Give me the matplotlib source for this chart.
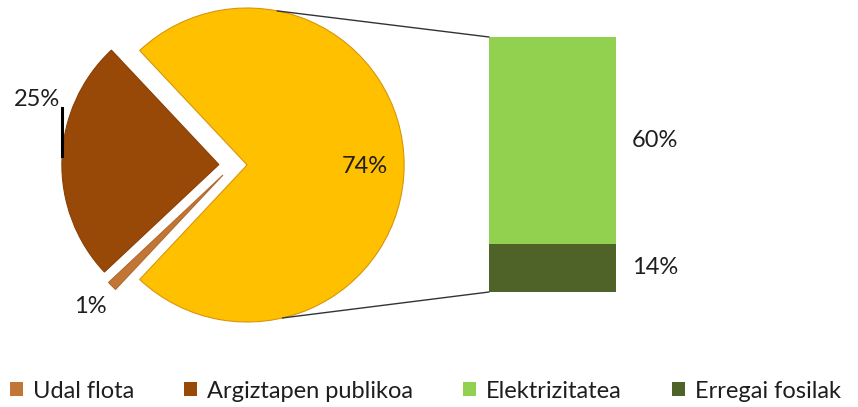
import matplotlib
matplotlib.use("Agg")
import matplotlib.pyplot as plt
from matplotlib.patches import ConnectionPatch, Patch
import numpy as np

plt.rcParams['font.family'] = ['Lato', 'DejaVu Sans']

# ---- data ----
pie_labels = ["Other", "Argiztapen publikoa", "Udal flota"]
pie_values = [74, 25, 1]
bar_labels = ["Erregai fosilak", "Elektrizitatea"]
bar_values = [14, 60]
legend_labels = ["Udal flota", "Argiztapen publikoa", "Elektrizitatea", "Erregai fosilak"]

# ---- styles ----
c_yellow = "#FFC000"
c_brown = "#984807"
c_orange = "#C27636"
c_lgreen = "#92D050"
c_dgreen = "#4F6228"
txt = "#1e1e1e"

W, H = 858, 407
fig = plt.figure(figsize=(W / 100, H / 100), dpi=100)

# pie axes: pie centre at pixel (233,165), radius 157 px
R = 157.0
cx, cy = 233.0, 165.0
axw, axh = 430.0, 330.0
ax = fig.add_axes([0, (H - axh) / H, axw / W, axh / H])
start = -pie_values[0] / 100 * 360 / 2
wedges, _ = ax.pie(pie_values, startangle=start, counterclock=True,
                   colors=[c_yellow, c_brown, c_orange],
                   explode=[0.09, 0.09, 0.09], radius=1.0,
                   wedgeprops=dict(linewidth=0.8))
edge_cols = ["#D9950A", "#8A4006", "#B06A2E"]
for w, ec in zip(wedges, edge_cols):
    w.set_edgecolor(ec)
ax.set_aspect('auto')
ax.set_xlim(-cx / R, (axw - cx) / R)
ax.set_ylim(-(axh - cy) / R, cy / R)
ax.axis('off')

lfs = 17
# labels
wy = wedges[0]
ax.text(wy.center[0] + 0.75, wy.center[1] - 0.01, f"{pie_values[0]}%",
        ha='center', va='center', fontsize=lfs, color=txt)
ax.text(-1.25, 0.42, f"{pie_values[1]}%", ha='center', va='center',
        fontsize=lfs, color=txt)
ax.plot([-1.087, -1.087], [0.36, 0.06], color='black', lw=2.2)
ax.text(-0.91, -0.90, f"{pie_values[2]}%", ha='center', va='center',
        fontsize=lfs, color=txt)

# bar axes
bl, br, bt, bb = 489.0, 616.0, 37.0, 292.0
bax = fig.add_axes([bl / W, (H - bb) / H, (br - bl) / W, (bb - bt) / H])
bottom = 0
for v, col in zip(bar_values, [c_dgreen, c_lgreen]):
    bax.bar(0, v, bottom=bottom, width=1.0, color=col, edgecolor='none')
    bax.text(0.5 + 16 / (br - bl), bottom + v / 2, f"{v}%", ha='left', va='center',
             fontsize=lfs, color=txt)
    bottom += v
bax.set_xlim(-0.5, 0.5)
bax.set_ylim(0, sum(bar_values))
bax.axis('off')

# connector lines
for ang, yb in [(79, sum(bar_values)), (-77, 0)]:
    a = np.deg2rad(ang)
    p = (wy.center[0] + wy.r * np.cos(a), wy.center[1] + wy.r * np.sin(a))
    con = ConnectionPatch(xyA=p, coordsA=ax.transData, xyB=(-0.5, yb),
                          coordsB=bax.transData, color='#333333', lw=1.0)
    fig.add_artist(con)

# legend
handles = [Patch(facecolor=c, edgecolor='none') for c in [c_orange, c_brown, c_lgreen, c_dgreen]]
fs = 17
px = fs * 100 / 72
leg = fig.legend(handles, legend_labels, loc='center left',
                 bbox_to_anchor=(10 / W, 1 - 391 / H), ncol=4, frameon=False,
                 fontsize=fs, handlelength=13 / px, handleheight=13 / px,
                 handletextpad=10 / px, columnspacing=50 / px, borderpad=0,
                 borderaxespad=0, labelcolor=txt)

fig.savefig("out.png", dpi=100)
